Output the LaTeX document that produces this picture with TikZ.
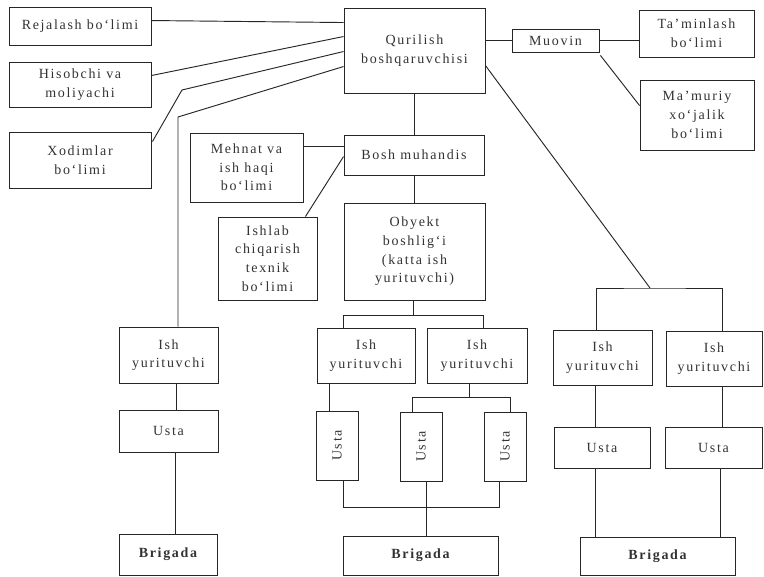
\documentclass[tikz,border=0pt]{standalone}
\usepackage{fontspec}
\setmainfont[LetterSpace=12]{Liberation Serif}
\usetikzlibrary{calc}
\tikzset{
  box/.style={draw=black!85, line width=0.7pt, inner sep=1pt, align=center,
    text=black!80, font=\fontsize{10.5}{14}\selectfont},
  bold/.style={font=\fontsize{10.5}{14}\selectfont\bfseries},
  conn/.style={draw=black!85, line width=0.7pt}
}
\newcommand\bx[7][]{\node[box,#1,minimum width={(#5-#3)*0.75pt},minimum height={(#6-#4)*0.75pt}] (#2) at ({(#3+#5)/2},{(#4+#6)/2}) {#7};}
\begin{document}
\begin{tikzpicture}[x=0.75pt,y=-0.75pt]
\useasboundingbox[fill=white] (0,0) rectangle (764,577);
% boxes
\bx{rej}{9}{7}{151}{45}{Rejalash bo‘limi}
\bx{his}{9}{62}{151}{107}{Hisobchi va\\moliyachi}
\bx{xod}{9}{132}{151}{188}{Xodimlar\\bo‘limi}
\bx{qur}{344}{8}{485}{93}{Qurilish\\boshqaruvchisi}
\bx{muo}{512}{29}{599}{52}{Muovin}
\bx{tam}{639}{10}{754}{57}{Ta’minlash\\bo‘limi}
\bx{mam}{640}{80}{754}{150}{Ma’muriy\\xo‘jalik\\bo‘limi}
\bx{bosh}{344}{135}{484}{175}{Bosh muhandis}
\bx{meh}{190}{133}{303}{202}{Mehnat va\\ish haqi\\bo‘limi}
\bx{ishl}{218}{217}{317}{300}{Ishlab\\chiqarish\\texnik\\bo‘limi}
\bx{oby}{344}{203}{485}{300}{Obyekt\\boshlig‘i\\(katta ish\\yurituvchi)}
\bx{iy1}{119}{327}{218}{383}{Ish\\yurituvchi}
\bx{us1}{119}{410}{218}{452}{Usta}
\bx[bold]{br1}{119}{534}{217}{575}{Brigada}
\bx{iy2}{317}{328}{415}{383}{Ish\\yurituvchi}
\bx{iy3}{427}{328}{527}{383}{Ish\\yurituvchi}
\bx{us2}{316}{411}{358}{480}{\rotatebox{90}{Usta}}
\bx{us3}{400}{412}{442}{481}{\rotatebox{90}{Usta}}
\bx{us4}{484}{412}{526}{481}{\rotatebox{90}{Usta}}
\bx[bold]{br2}{343}{536}{498}{575}{Brigada}
\bx{iy4}{553}{330}{652}{385}{Ish\\yurituvchi}
\bx{iy5}{666}{331}{762}{386}{Ish\\yurituvchi}
\bx{us5}{554}{427}{650}{468}{Usta}
\bx{us6}{665}{427}{762}{468}{Usta}
\bx[bold]{br3}{580}{537}{735}{575}{Brigada}
% connectors
\coordinate (c1) at (182,90);
\coordinate (c2) at (178,117);
\coordinate (m1) at ($(meh.north east)+(0,14)$);
\coordinate (o1) at ($(oby.south)+(-1.5,15)$);
\coordinate (p2) at ($(iy2.south)+(-37,0)$);
\coordinate (o2) at ($(iy3.south)+(-8,14)$);
\coordinate (o3) at ($(us3.south)+(5,26)$);
\coordinate (r1) at (650,288);
\coordinate (q1) at ($(iy1.south)+(8,0)$);
\coordinate (q2) at ($(us1.south)+(7,0)$);
\coordinate (q3) at ($(iy4.south)+(-7,0)$);
\coordinate (q4) at ($(iy5.south)+(8,0)$);
\coordinate (q5) at ($(us5.south)+(-7,0)$);
\coordinate (q6) at ($(us6.south)+(7,0)$);
\begin{scope}[every path/.style={conn}]
\draw ($(rej.north east)+(0,14)$) -- ($(qur.north west)+(0,15)$);
\draw ($(his.north east)+(0,14)$) -- ($(qur.north west)+(0,29)$);
\draw ($(qur.north west)+(0,44)$) -- (c1) -- ($(xod.north east)+(1,10)$);
\draw ($(qur.north west)+(0,59)$) -- (c2) -- (c2 |- iy1.north);
\draw (qur.east |- muo.west) -- (muo.west);
\draw (muo.east) -- (muo.east -| tam.west);
\draw ($(muo.south east)+(1,3)$) -- ($(mam.north west)+(0,26)$);
\draw (qur.south) -- (qur.south |- bosh.north);
\draw (m1) -- (m1 -| bosh.west);
\draw ($(bosh.north west)+(0,22)$) -- ($(ishl.north east)+(-12,0)$);
\draw (bosh.south) -- (bosh.south |- oby.north);
\draw (oby.south -| o1) -- (o1);
\draw ($(iy2.north)+(-23,0)$) |- (o1) -| ($(iy3.north)+(6,0)$);
\draw (p2) -- (p2 |- us2.north);
\draw (iy3.south -| o2) -- (o2);
\draw ($(us3.north)+(-9,0)$) |- (o2) -| ($(us4.north)+(5,0)$);
\draw ($(us2.south)+(6,0)$) |- (o3) -| ($(us4.south)+(-6,0)$);
\draw (us3.south -| o3) -- (o3 |- br2.north);
\draw (q1) -- (q1 |- us1.north);
\draw (q2) -- (q2 |- br1.north);
\draw ($(qur.north east)+(0,58)$) -- (r1);
\draw ($(iy4.north)+(-6.5,0)$) |- (r1) -| ($(iy5.north)+(8.5,0)$);
\draw (q3) -- (q3 |- us5.north);
\draw (q4) -- (q4 |- us6.north);
\draw (q5) -- (q5 |- br3.north);
\draw (q6) -- (q6 |- br3.north);
\end{scope}
\end{tikzpicture}
\end{document}
